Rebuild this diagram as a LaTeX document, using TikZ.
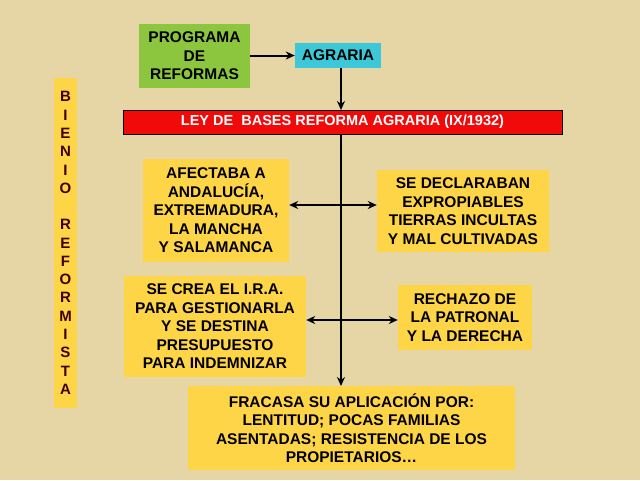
\documentclass[tikz,border=0pt]{standalone}
\usepackage{fontspec}
\setmainfont{Liberation Sans}
\usetikzlibrary{arrows.meta}
\begin{document}
\begin{tikzpicture}[x=1pt,y=-1pt,
  box/.style={text=black, font=\bfseries\fontsize{15.5}{18.5}\selectfont, align=center, inner sep=0pt},
  arr/.style={line width=2pt, -{Stealth[length=9pt,width=8pt]}},
  darr/.style={line width=2pt, {Stealth[length=9pt,width=8pt]}-{Stealth[length=9pt,width=8pt]}}]
\definecolor{bg}{HTML}{E6D6A6}
\definecolor{yb}{HTML}{FFD548}
\fill[bg] (0,0) rectangle (640,480);
\useasboundingbox (0,0) rectangle (640,480);
\tikzset{box/.append style={fill=yb}}
\node[box, fill={rgb,255:red,140;green,198;blue,63}, minimum width=111pt, minimum height=64pt] (prog) at (194.5,56) {PROGRAMA\\DE\\REFORMAS};
\node[box, fill={rgb,255:red,60;green,200;blue,216}, minimum width=86pt, minimum height=25pt] (agr) at (338,55.5) {AGRARIA};
\node[box, minimum width=23pt, minimum height=330pt, font=\bfseries\fontsize{15}{18.3}\selectfont, text=black!75!red] (bie) at (65.5,243) {B\\I\\E\\N\\I\\O\\[18pt]R\\E\\F\\O\\R\\M\\I\\S\\T\\A};
\node[box, fill={rgb,255:red,240;green,10;blue,10}, draw=black, line width=0.8pt, text=white, minimum width=439pt, minimum height=24pt, font=\bfseries\fontsize{14.5}{17}\selectfont] (ley) at (342.5,122) {LEY DE\ \ BASES REFORMA AGRARIA (IX/1932)};
\node[box, minimum width=146pt, minimum height=103pt] (afe) at (216,210.5) {AFECTABA A\\ANDALUCÍA,\\EXTREMADURA,\\LA MANCHA\\ Y SALAMANCA};
\node[box, minimum width=172pt, minimum height=82pt] (dec) at (463,211) {SE DECLARABAN\\EXPROPIABLES\\TIERRAS INCULTAS\\Y MAL CULTIVADAS};
\node[box, minimum width=182pt, minimum height=101pt] (ira) at (215,326.5) {SE CREA EL I.R.A.\\PARA GESTIONARLA\\Y SE DESTINA\\PRESUPUESTO\\ PARA INDEMNIZAR};
\node[box, minimum width=134pt, minimum height=65pt] (rec) at (465,317.5) {RECHAZO DE\\LA PATRONAL\\Y LA DERECHA};
\node[box, minimum width=327pt, minimum height=84pt] (fra) at (351.5,428) {FRACASA SU APLICACIÓN POR:\\LENTITUD; POCAS FAMILIAS\\ASENTADAS; RESISTENCIA DE LOS\\PROPIETARIOS…};
\draw[arr] (prog.east|-agr) -- (agr.west);
\draw[arr] (341,68) -- (341,110);
\draw[arr] (341,134) -- (341,386);
\draw[darr] (afe.east|-0,205) -- (dec.west|-0,205);
\draw[darr] (ira.east|-0,320) -- (rec.west|-0,320);
\end{tikzpicture}
\end{document}
